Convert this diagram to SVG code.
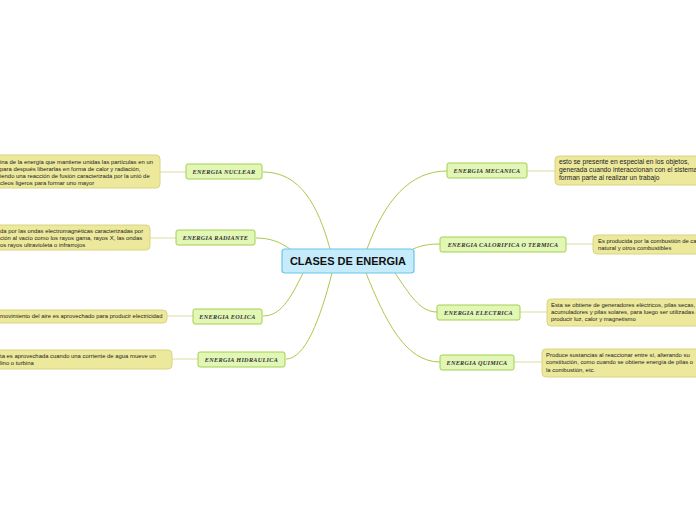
<svg xmlns="http://www.w3.org/2000/svg" width="696" height="520" viewBox="0 0 696 520">
<style>
.bg{fill:#ffffff}
.c{fill:none;stroke:#a9c94e;stroke-width:1}
.l{fill:none;stroke:#dedba0;stroke-width:1}
.n{fill:#e2f6b6;stroke:#a4cf50;stroke-width:1}
.t{fill:#ede99c;stroke:#d9d481;stroke-width:1}
.m{fill:#c6ecfb;stroke:#6cc3ec;stroke-width:1.2}
.nl{font-family:"Liberation Serif",serif;font-style:italic;font-weight:bold;font-size:6.2px;fill:#333333;text-anchor:middle;letter-spacing:0.3px}
.tx{font-family:"Liberation Sans",Arial,sans-serif;font-size:5.9px;fill:#222222}
.tb{font-family:"Liberation Sans",Arial,sans-serif;font-size:6.7px;fill:#222222}
.ml{font-family:"Liberation Sans",Arial,sans-serif;font-weight:bold;font-size:11px;fill:#111111;text-anchor:middle}
</style>
<rect class="bg" x="0" y="0" width="696" height="520"/>
<g id="connectors">
<path class="c" d="M330,249 C318,205 300,172 263,172"/>
<path class="c" d="M290,249 C280,242 270,238 256,238"/>
<path class="c" d="M303,273 C290,300 280,316 263,316"/>
<path class="c" d="M332,273 C320,320 305,359 286,359"/>
<path class="c" d="M367,249 C385,200 410,171 447,171"/>
<path class="c" d="M413,249 C422,245 430,244 441,244"/>
<path class="c" d="M395,273 C410,295 420,312 437,312"/>
<path class="c" d="M366,273 C385,320 405,362 440,362"/>
<line class="l" x1="160" y1="172" x2="186" y2="172"/>
<line class="l" x1="150" y1="238" x2="176" y2="238"/>
<line class="l" x1="167" y1="316" x2="193" y2="316"/>
<line class="l" x1="172" y1="359" x2="198" y2="359"/>
<line class="l" x1="527" y1="171" x2="555" y2="171"/>
<line class="l" x1="566" y1="244" x2="593" y2="244"/>
<line class="l" x1="520" y1="312" x2="547" y2="312"/>
<line class="l" x1="514" y1="362" x2="542" y2="362"/>
</g>
<g id="central">
<rect class="m" x="282" y="249" width="132" height="24" rx="3"/>
<text class="ml" x="348" y="265">CLASES DE ENERGIA</text>
</g>
<g id="nuclear">
<rect class="n" x="186" y="164" width="76" height="15" rx="2"/>
<text class="nl" x="224" y="174">ENERGIA NUCLEAR</text>
</g>
<g id="nuclear-text">
<rect class="t" x="-10" y="155" width="170" height="33" rx="4"/>
<text class="tx" x="0" y="163.5">ina de la energía que mantiene unidas las partículas en un</text>
<text class="tx" x="0" y="170.5">para después liberarlas en forma de calor y radiación,</text>
<text class="tx" x="0" y="177.5">iendo una reacción de fusión caracterizada por la unió de</text>
<text class="tx" x="0" y="184.5">cleos ligeros para formar uno mayor</text>
</g>
<g id="radiante">
<rect class="n" x="176" y="230" width="79" height="15" rx="2"/>
<text class="nl" x="215.5" y="240">ENERGIA RADIANTE</text>
</g>
<g id="radiante-text">
<rect class="t" x="-10" y="225" width="160" height="25" rx="4"/>
<text class="tx" x="0" y="233">da por las ondas electromagnéticas caracterizadas por</text>
<text class="tx" x="0" y="240">ción al vacío como los rayos gama, rayos X, las ondas</text>
<text class="tx" x="0" y="247">os rayos ultravioleta o infrarrojos</text>
</g>
<g id="eolica">
<rect class="n" x="193" y="309" width="69" height="15" rx="2"/>
<text class="nl" x="227.5" y="319">ENERGIA EOLICA</text>
</g>
<g id="eolica-text">
<rect class="t" x="-10" y="310" width="177" height="13" rx="4"/>
<text class="tx" x="0" y="318">movimiento del aire es aprovechado para producir electricidad</text>
</g>
<g id="hidraulica">
<rect class="n" x="198" y="352" width="87" height="15" rx="2"/>
<text class="nl" x="241.5" y="362">ENERGIA HIDRAULICA</text>
</g>
<g id="hidraulica-text">
<rect class="t" x="-10" y="350" width="182" height="19" rx="4"/>
<text class="tx" x="0" y="358">ta es aprovechada cuando una corriente de agua mueve un</text>
<text class="tx" x="0" y="365">lino o turbina</text>
</g>
<g id="mecanica">
<rect class="n" x="447" y="163" width="80" height="15" rx="2"/>
<text class="nl" x="487" y="173">ENERGIA MECANICA</text>
</g>
<g id="mecanica-text">
<rect class="t" x="555" y="156" width="160" height="29" rx="4"/>
<text class="tb" x="559" y="164">esto se presente en especial en los objetos,</text>
<text class="tb" x="559" y="172">generada cuando interaccionan con el sistema</text>
<text class="tb" x="559" y="180">forman parte al realizar un trabajo</text>
</g>
<g id="calorifica">
<rect class="n" x="440" y="237" width="126" height="15" rx="2"/>
<text class="nl" x="503" y="247">ENERGIA CALORIFICA O TERMICA</text>
</g>
<g id="calorifica-text">
<rect class="t" x="593" y="235" width="120" height="19" rx="4"/>
<text class="tx" x="598" y="243">Es producida por la combustión de carbón, gas</text>
<text class="tx" x="598" y="250">natural y otros combustibles</text>
</g>
<g id="electrica">
<rect class="n" x="437" y="305" width="83" height="15" rx="2"/>
<text class="nl" x="478.5" y="315">ENERGIA ELECTRICA</text>
</g>
<g id="electrica-text">
<rect class="t" x="547" y="299" width="170" height="27" rx="4"/>
<text class="tx" x="551" y="307">Esta se obtiene de generadores eléctricos, pilas secas,</text>
<text class="tx" x="551" y="314">acumuladores y pilas solares, para luego ser utilizadas en</text>
<text class="tx" x="551" y="321">producir luz, calor y magnetismo</text>
</g>
<g id="quimica">
<rect class="n" x="440" y="355" width="74" height="15" rx="2"/>
<text class="nl" x="477" y="365">ENERGIA QUIMICA</text>
</g>
<g id="quimica-text">
<rect class="t" x="542" y="349" width="170" height="28" rx="4"/>
<text class="tx" x="546" y="357">Produce sustancias al reaccionar entre sí, alterando su</text>
<text class="tx" x="546" y="364">constitución, como cuando se obtiene energía de pilas o</text>
<text class="tx" x="546" y="371.5">la combustión, etc.</text>
</g>
</svg>
